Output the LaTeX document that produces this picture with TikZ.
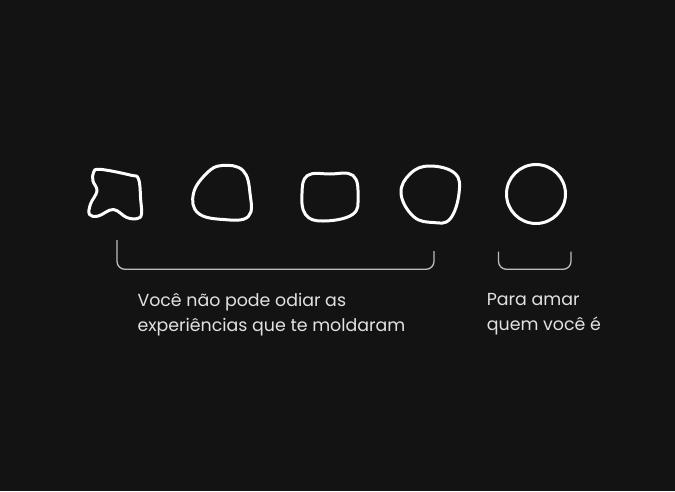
\documentclass[tikz,border=0pt]{standalone}
\usepackage{fontspec}
\setmainfont{Poppins}
\begin{document}
\begin{tikzpicture}[x=1pt,y=-1pt,
  blob/.style={draw=white,line width=3pt,line join=round},
  brace/.style={draw=bracegray,line width=1.3pt,rounded corners=8pt},
  caption/.style={text=captiongray,align=left,anchor=base west,inner sep=0pt,
    font=\fontsize{17.4}{25}\selectfont}]
\definecolor{bg}{HTML}{131313}
\definecolor{bracegray}{HTML}{BDBDBD}
\definecolor{captiongray}{HTML}{E2E2E2}
\fill[bg] (0,0) rectangle (675,491);
\useasboundingbox (0,0) rectangle (675,491);
% shapes
\draw[blob] plot[smooth cycle,tension=0.65] coordinates {
  (93.5,172.5) (100,169.3) (130,175) (138.5,179) (140.7,200) (141.5,214)
  (137.5,218.5) (126.7,217.5) (113.3,209.5) (98.3,216) (89.5,214.5)
  (90.5,204) (97,191) (93,181)};
\draw[blob] plot[smooth cycle,tension=0.7] coordinates {
  (222,165.5) (243,170.5) (250,193.3) (248.3,216.5) (223.3,219.5)
  (198,213) (193.5,193.3) (206.7,173.3)};
\draw[blob] plot[smooth cycle,tension=0.7] coordinates {
  (307.5,175.5) (330,174) (353,175.5) (358,196.7) (352.5,214.5)
  (323.3,221) (305.5,214.5) (302,193.3)};
\draw[blob] plot[smooth cycle,tension=0.7] coordinates {
  (430,166) (455,173.5) (459,193.3) (450,219) (433.3,222.5)
  (413.5,216.5) (401,193.3) (410.5,173.5)};
\draw[blob] (536,194) circle[radius=29.5];
% brackets
\coordinate (b1a) at (117,240);
\coordinate (b1b) at (434,251);
\coordinate (b2a) at (498.5,251.5);
\coordinate (b2b) at (571,251.5);
\draw[brace] (b1a) |- (434,269.3) -- (b1b);
\draw[brace] (b2a) |- (571,269.3) -- (b2b);
% captions (base anchor = last line)
\node[caption] (t1) at (137.3,331.7) {Você não pode odiar as\\experiências que te moldaram};
\node[caption] (t2) at (486.7,330.5) {Para amar\\quem você é};
\end{tikzpicture}
\end{document}
